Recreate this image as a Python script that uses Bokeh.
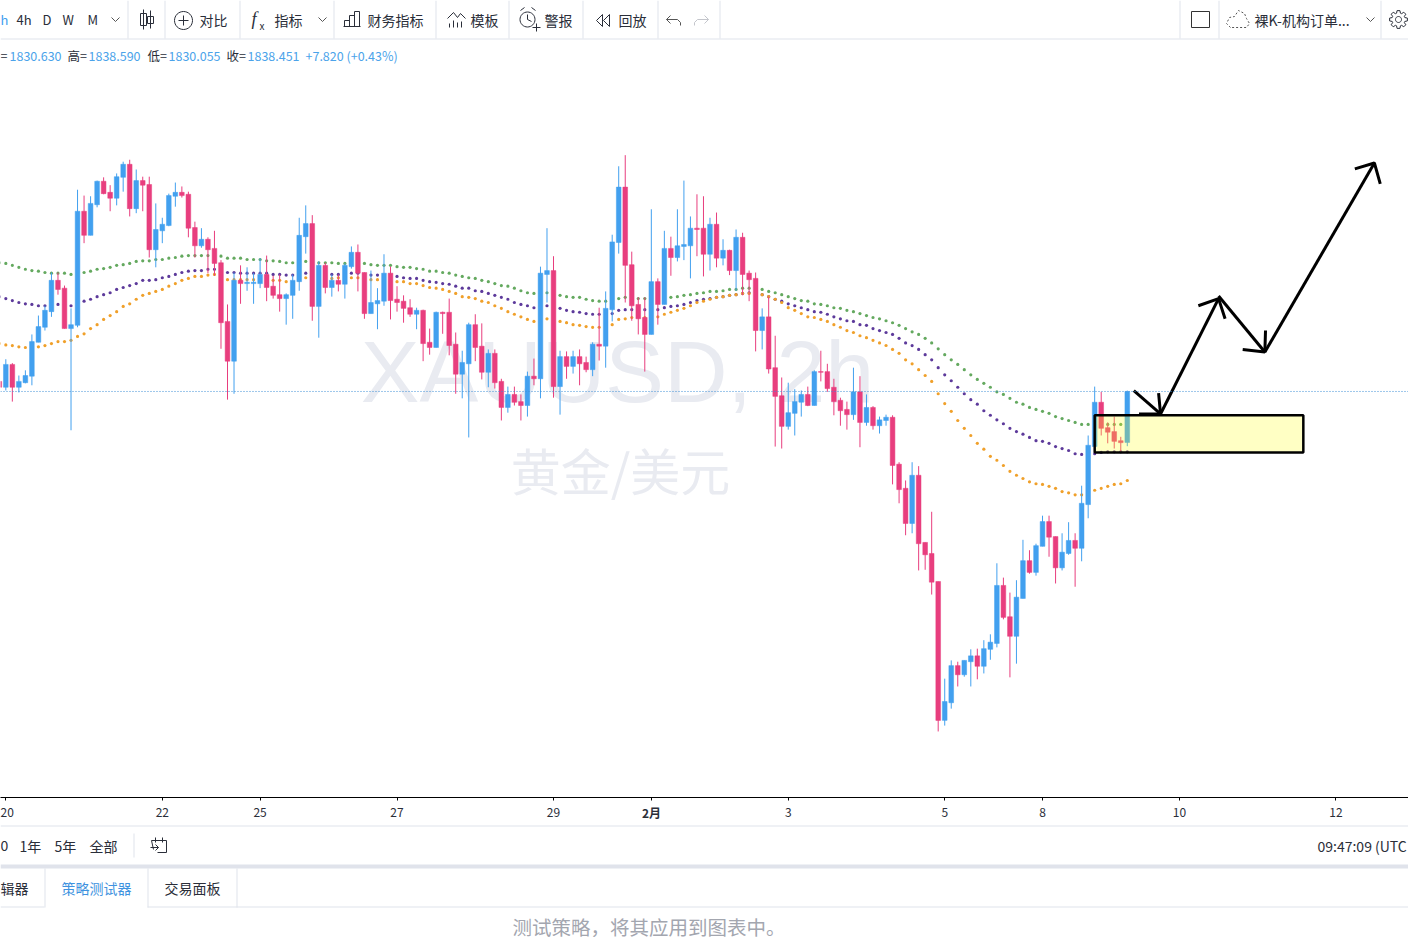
import math
from bokeh.plotting import figure
from bokeh.layouts import column
from bokeh.core.properties import value
from bokeh.models import Range1d, FixedTicker, Label, Span
from bokeh.embed import file_html
from bokeh.resources import INLINE

# XAUUSD 2h candles
opens = [1840.0,1839.1,1842.6,1839.1,1839.8,1840.8,1846.0,1848.3,1850.7,1855.5,
1854.3,1848.1,1848.6,1866.1,1862.4,1867.1,1870.7,1869.0,1868.1,1871.3,
1873.3,1866.5,1870.8,1870.2,1860.2,1863.1,1863.9,1868.4,1869.0,1868.7,
1863.6,1860.8,1861.8,1860.4,1858.2,1849.2,1843.1,1855.5,1855.0,1855.0,
1855.0,1856.4,1854.6,1853.3,1852.7,1853.2,1855.3,1862.2,1864.2,1851.5,
1857.8,1854.4,1855.5,1854.9,1857.6,1859.8,1856.7,1850.4,1851.9,1852.3,
1856.6,1852.6,1852.3,1851.3,1850.3,1850.9,1846.0,1845.2,1850.6,1850.6,
1845.7,1841.1,1842.7,1848.7,1845.4,1841.4,1844.3,1840.0,1836.0,1838.0,
1836.9,1836.3,1840.8,1840.4,1856.4,1857.0,1839.2,1843.8,1842.3,1843.8,
1842.9,1841.8,1845.7,1845.4,1851.0,1861.3,1869.8,1857.9,1851.8,1849.8,
1847.2,1855.3,1851.8,1860.4,1859.0,1860.7,1860.8,1863.5,1863.5,1859.5,
1864.1,1858.9,1860.1,1857.0,1862.1,1856.6,1855.8,1847.8,1849.9,1842.1,
1837.8,1833.1,1835.1,1836.8,1838.0,1836.3,1841.5,1841.5,1839.1,1837.1,
1835.7,1834.9,1838.4,1833.7,1836.0,1833.2,1834.0,1834.5,1827.3,1823.6,
1818.2,1825.6,1815.3,1813.6,1809.3,1788.0,1790.7,1796.4,1795.0,1797.0,
1797.9,1796.3,1798.9,1799.8,1808.7,1803.9,1800.9,1806.7,1812.5,1810.7,
1814.7,1818.5,1816.2,1811.4,1813.6,1815.6,1814.4,1821.1,1830.0,1836.8,
1832.9,1832.3,1830.9,1830.63]
highs = [1840.0,1843.4,1842.8,1840.9,1841.7,1847.2,1850.1,1851.6,1856.7,1856.7,
1854.7,1851.2,1869.4,1868.5,1868.4,1870.8,1871.3,1870.1,1871.9,1873.7,
1874.0,1872.5,1871.4,1871.4,1867.3,1865.1,1868.8,1870.5,1869.9,1869.1,
1864.5,1863.5,1862.1,1863.1,1858.6,1851.8,1856.7,1857.8,1857.5,1856.6,
1858.9,1859.3,1856.2,1856.4,1853.5,1856.4,1865.1,1867.0,1865.5,1858.4,
1858.2,1856.4,1856.4,1858.1,1860.7,1861.0,1856.7,1857.0,1854.3,1859.5,
1857.6,1854.6,1853.2,1852.6,1851.3,1851.0,1848.1,1850.7,1850.7,1852.7,
1847.5,1844.7,1849.0,1850.3,1848.9,1844.9,1844.9,1840.4,1839.2,1839.2,
1838.0,1841.5,1843.5,1857.6,1863.5,1859.2,1844.7,1844.6,1844.7,1844.9,
1843.8,1846.0,1851.3,1853.8,1862.5,1873.0,1874.7,1859.9,1852.9,1852.9,
1866.4,1855.8,1863.1,1862.2,1866.4,1870.8,1865.3,1868.7,1868.4,1865.1,
1865.9,1861.8,1860.2,1863.3,1862.8,1857.0,1856.7,1851.2,1853.0,1847.0,
1840.6,1839.8,1838.8,1838.6,1839.2,1841.7,1844.7,1842.7,1840.4,1837.5,
1836.9,1842.1,1840.8,1838.0,1836.2,1834.6,1834.9,1834.8,1827.6,1824.8,
1827.6,1827.0,1815.3,1820.0,1809.3,1794.4,1797.2,1797.0,1797.2,1798.9,
1799.0,1800.3,1801.2,1812.1,1809.9,1807.6,1809.5,1815.7,1814.1,1815.1,
1819.4,1819.4,1816.2,1816.7,1818.4,1816.7,1824.0,1831.7,1839.2,1838.4,
1833.7,1834.6,1831.5,1838.59]
lows = [1838.9,1838.6,1836.9,1838.3,1839.7,1839.4,1846.0,1847.8,1849.9,1853.3,
1848.1,1832.5,1848.3,1861.2,1862.4,1866.7,1868.7,1866.1,1867.0,1869.1,
1865.3,1865.8,1866.1,1859.0,1857.5,1861.2,1863.8,1866.8,1868.2,1862.1,
1859.0,1860.5,1856.6,1856.2,1845.0,1837.2,1838.1,1851.9,1853.9,1851.9,
1854.3,1852.3,1852.7,1850.7,1848.7,1849.6,1853.9,1859.6,1849.3,1846.7,
1853.5,1853.0,1853.8,1852.7,1857.3,1853.8,1849.6,1850.4,1848.0,1851.6,
1849.5,1850.7,1849.0,1849.9,1848.0,1843.1,1844.1,1845.2,1847.3,1844.0,
1838.1,1837.4,1831.4,1843.1,1840.3,1839.1,1838.9,1834.0,1835.2,1836.3,
1834.0,1834.6,1839.4,1837.4,1852.1,1837.5,1834.9,1840.4,1841.2,1839.4,
1841.4,1840.8,1843.2,1842.1,1849.2,1859.6,1852.1,1849.3,1847.2,1841.5,
1847.2,1848.7,1851.8,1856.2,1858.4,1858.6,1855.8,1859.2,1856.1,1857.0,
1857.5,1857.8,1856.3,1853.9,1853.2,1852.3,1844.6,1844.9,1841.2,1830.0,
1829.7,1832.6,1831.7,1834.6,1836.2,1836.3,1840.0,1838.4,1834.8,1833.2,
1832.6,1834.1,1829.9,1833.2,1832.6,1832.0,1833.2,1824.2,1821.3,1816.4,
1816.7,1811.0,1811.1,1807.3,1786.3,1787.2,1789.8,1793.2,1794.7,1793.2,
1794.3,1795.2,1797.3,1799.2,1803.5,1794.6,1796.7,1806.7,1810.5,1810.2,
1814.7,1813.1,1809.0,1811.0,1813.4,1808.5,1812.4,1819.0,1830.0,1831.7,
1830.5,1829.7,1829.2,1830.055]
closes = [1839.1,1842.6,1839.1,1840.0,1840.9,1846.1,1848.4,1850.9,1855.5,1854.1,
1848.1,1848.7,1866.1,1862.4,1867.3,1870.7,1868.8,1868.1,1871.4,1873.3,
1866.5,1870.8,1870.1,1860.2,1863.3,1864.1,1868.5,1869.0,1868.5,1863.5,
1860.8,1861.8,1860.2,1858.1,1849.0,1843.1,1855.5,1855.0,1855.2,1855.2,
1856.4,1854.4,1853.2,1852.7,1853.3,1855.5,1862.4,1864.2,1851.5,1857.8,
1854.4,1855.5,1854.9,1857.8,1859.8,1856.6,1850.4,1852.1,1852.4,1856.6,
1852.4,1852.1,1851.2,1850.3,1850.9,1845.8,1845.2,1850.6,1850.4,1845.5,
1841.1,1842.9,1848.7,1845.2,1841.4,1844.3,1839.8,1836.0,1838.0,1836.8,
1836.3,1840.8,1840.4,1856.6,1857.0,1839.2,1843.8,1842.3,1843.8,1842.7,
1841.8,1845.7,1845.4,1851.2,1861.4,1869.8,1857.8,1851.6,1849.6,1847.2,
1855.3,1851.8,1860.4,1859.0,1860.8,1861.0,1863.5,1863.3,1859.5,1864.1,
1858.9,1860.1,1857.0,1862.1,1856.4,1855.6,1847.8,1849.9,1841.9,1837.7,
1833.1,1835.2,1836.9,1838.0,1836.3,1841.5,1841.4,1838.9,1836.9,1835.5,
1834.9,1838.4,1833.7,1836.0,1833.2,1834.1,1834.5,1827.1,1823.4,1818.2,
1825.6,1815.1,1813.4,1809.2,1788.0,1790.9,1796.4,1795.0,1797.2,1797.9,
1796.3,1799.0,1800.0,1808.7,1803.8,1800.9,1806.9,1812.5,1810.7,1814.8,
1818.5,1816.1,1811.4,1813.8,1815.6,1814.4,1821.3,1830.2,1836.8,1832.8,
1832.2,1830.8,1830.6,1838.451]

ma_green = [1858.2,1858.1,1857.8,1857.5,1857.2,1857.0,1856.9,1856.7,1856.6,1856.6,
1856.6,1856.4,1856.6,1856.7,1856.9,1857.2,1857.3,1857.5,1857.8,1857.9,
1858.1,1858.4,1858.5,1858.5,1858.7,1858.7,1858.9,1859.0,1859.2,1859.3,
1859.3,1859.3,1859.3,1859.3,1859.2,1858.9,1858.9,1858.9,1858.7,1858.7,
1858.7,1858.5,1858.5,1858.4,1858.2,1858.2,1858.4,1858.4,1858.4,1858.2,
1858.2,1858.2,1858.1,1858.1,1858.2,1858.2,1858.1,1857.9,1857.8,1857.8,
1857.8,1857.6,1857.5,1857.5,1857.3,1857.2,1856.9,1856.9,1856.7,1856.6,
1856.3,1856.1,1855.9,1855.8,1855.5,1855.3,1855.0,1854.7,1854.6,1854.3,
1853.9,1853.6,1853.5,1853.5,1853.6,1853.3,1853.2,1853.0,1852.9,1852.9,
1852.6,1852.4,1852.3,1852.3,1852.4,1852.7,1852.9,1852.7,1852.7,1852.7,
1852.7,1852.9,1852.9,1852.9,1853.0,1853.2,1853.3,1853.5,1853.6,1853.8,
1853.8,1853.9,1854.1,1854.1,1854.3,1854.3,1854.1,1854.1,1853.8,1853.6,
1853.3,1853.0,1852.7,1852.4,1852.3,1851.9,1851.8,1851.6,1851.3,1851.2,
1850.9,1850.7,1850.4,1850.1,1849.8,1849.6,1849.3,1849.0,1848.6,1848.1,
1847.6,1847.2,1846.6,1845.9,1845.0,1844.1,1843.3,1842.6,1841.8,1841.0,
1840.3,1839.7,1839.1,1838.4,1838.0,1837.4,1836.8,1836.5,1836.0,1835.7,
1835.4,1835.1,1834.6,1834.3,1834.0,1833.7,1833.4,1833.4,1833.4,1833.4,
1833.4,1833.4,1833.4,1833.4]
ma_purple = [1853.0,1852.7,1852.4,1852.1,1851.9,1851.8,1851.6,1851.6,1851.6,1851.8,
1851.8,1851.6,1851.9,1852.3,1852.6,1853.0,1853.3,1853.6,1854.1,1854.4,
1854.7,1855.0,1855.5,1855.5,1855.6,1855.9,1856.1,1856.4,1856.7,1856.9,
1857.0,1857.0,1857.2,1857.2,1857.0,1856.7,1856.7,1856.6,1856.6,1856.6,
1856.6,1856.6,1856.4,1856.4,1856.3,1856.3,1856.4,1856.6,1856.3,1856.3,
1856.3,1856.4,1856.4,1856.4,1856.6,1856.6,1856.4,1856.3,1856.3,1856.1,
1855.9,1856.1,1855.9,1855.8,1855.8,1855.5,1855.3,1855.2,1855.0,1854.9,
1854.6,1854.3,1854.3,1853.9,1853.8,1853.5,1853.2,1852.9,1852.6,1852.1,
1851.8,1851.6,1851.3,1851.5,1851.6,1851.3,1851.2,1850.9,1850.7,1850.6,
1850.4,1850.3,1850.3,1850.4,1850.4,1850.9,1851.0,1851.0,1850.7,1851.0,
1851.0,1851.0,1851.3,1851.5,1851.6,1851.8,1852.1,1852.4,1852.6,1852.7,
1852.9,1853.0,1853.2,1853.3,1853.5,1853.6,1853.5,1853.3,1853.0,1852.6,
1852.3,1851.9,1851.6,1851.3,1851.0,1850.7,1850.6,1850.3,1849.9,1849.6,
1849.3,1849.2,1848.7,1848.6,1848.1,1847.8,1847.5,1847.2,1846.6,1845.9,
1845.5,1844.9,1844.1,1843.3,1842.1,1841.0,1840.1,1839.1,1838.1,1837.2,
1836.5,1835.5,1834.8,1834.1,1833.5,1832.8,1832.3,1831.9,1831.4,1830.9,
1830.8,1830.5,1830.0,1829.7,1829.4,1828.9,1828.8,1828.8,1828.9,1829.1,
1829.2,1829.2,1829.2,1829.2]
ma_orange = [1845.8,1845.6,1845.5,1845.3,1845.2,1845.3,1845.3,1845.5,1845.8,1846.1,
1846.1,1846.3,1846.9,1847.3,1848.1,1848.7,1849.5,1850.1,1850.7,1851.5,
1851.9,1852.6,1853.2,1853.5,1853.8,1854.1,1854.6,1855.0,1855.5,1855.8,
1856.1,1856.1,1856.3,1856.4,1855.9,1855.6,1855.6,1855.6,1855.6,1855.6,
1855.6,1855.5,1855.5,1855.5,1855.3,1855.2,1855.5,1855.9,1855.8,1855.8,
1855.6,1855.8,1855.9,1855.9,1855.9,1855.9,1855.8,1855.6,1855.6,1855.5,
1855.3,1855.3,1855.3,1855.0,1855.0,1854.7,1854.4,1854.3,1854.1,1853.8,
1853.5,1853.0,1852.9,1852.7,1852.3,1852.1,1851.6,1851.2,1850.7,1850.3,
1849.9,1849.5,1849.2,1849.3,1849.6,1849.3,1849.2,1849.0,1848.7,1848.6,
1848.4,1848.3,1848.3,1848.4,1848.7,1849.5,1849.6,1849.8,1849.9,1849.8,
1849.6,1849.9,1850.3,1850.6,1850.9,1851.2,1851.6,1852.1,1852.3,1852.6,
1852.9,1853.0,1853.2,1853.3,1853.5,1853.5,1853.3,1853.3,1853.0,1852.6,
1852.1,1851.3,1850.9,1850.4,1849.9,1849.8,1849.5,1849.2,1848.7,1848.3,
1847.8,1847.5,1847.0,1846.7,1846.3,1845.9,1845.5,1844.9,1844.3,1843.3,
1842.7,1841.8,1840.9,1840.0,1838.1,1836.6,1835.4,1834.0,1832.8,1831.7,
1830.5,1829.6,1828.5,1827.9,1827.1,1826.2,1825.6,1825.1,1824.6,1824.3,
1824.2,1823.9,1823.6,1823.1,1822.9,1822.6,1822.6,1822.8,1823.3,1823.6,
1823.9,1824.2,1824.3,1824.8]

tick_index = [1, 25, 40, 61, 85, 100, 121, 145, 160, 181, 205]
tick_text = ["20", "22", "25", "27", "29", "", "3", "5", "8", "10", "12"]

# hand-drawn trade idea: (bar index, price)
box_x = [168.0, 200.0]
box_y = [1829.1, 1834.8]
arrow_x = [[174.0, 178.1], [177.8, 178.1, 174.8], [178.1, 187.0], [183.9, 187.0, 188.0],
           [187.0, 194.1], [194.2, 194.1, 190.7], [194.1, 210.9], [207.9, 210.9, 211.8]]
arrow_y = [[1838.6, 1835.0], [1838.2, 1835.0, 1835.0], [1835.0, 1852.7], [1851.6, 1852.7, 1849.6],
           [1853.1, 1844.5], [1847.8, 1844.5, 1844.9], [1844.5, 1873.5], [1872.6, 1873.5, 1870.3]]

BLUE = "#42a0ef"
RED = "#e83e7e"
INK = "#2a2e39"
RULE = "#e0e3eb"
LBLUE = "#4ba3ea"
CJK = "Noto Sans CJK SC"

p = figure(width=1408, height=785, output_backend="svg", toolbar_location=None,
           x_range=Range1d(0.184, 216.13), y_range=Range1d(1776.17, 1892.29),
           min_border_left=0, min_border_right=0, min_border_top=0, min_border_bottom=28,
           outline_line_color=None, background_fill_color="white")
p.grid.visible = False
p.yaxis.visible = False
ax = p.xaxis[0]
ax.ticker = FixedTicker(ticks=tick_index)
ax.major_label_overrides = {t: s for t, s in zip(tick_index, tick_text)}
ax.axis_line_color = "#000000"
ax.major_tick_line_color = "#000000"
ax.minor_tick_line_color = None
ax.major_tick_in = 0
ax.major_tick_out = 3
ax.major_label_standoff = 7
ax.major_label_text_font = CJK
ax.major_label_text_font_size = "12px"
ax.major_label_text_color = INK


def L(x, y, s, size=12.5, color=INK, align="left", font=CJK, level="annotation"):
    # text inside the chart panel, y given from the top of the page
    p.add_layout(Label(x=x, y=y - 40, x_units="canvas", y_units="canvas", text=s,
                       text_font=font, text_font_size=f"{size}px", text_color=color,
                       text_align=align, text_baseline="middle", level=level))


L(617, 371, "XAUUSD, 2h", size=88, color="#e9ebf1", align="center", font="Liberation Sans", level="underlay")
L(620, 468, "黄金/美元", size=50, color="#e9ebf1", align="center", level="underlay")

# moving averages, then candles over them
idx = list(range(len(opens)))
p.scatter(idx, ma_green, size=3.2, color="#64a95f", line_width=0)
p.scatter(idx, ma_purple, size=3.2, color="#5d3a9b", line_width=0)
p.scatter(idx, ma_orange, size=3.2, color="#f0a02a", line_width=0)

colors = [BLUE if c >= o else RED for o, c in zip(opens, closes)]
p.segment(idx, highs, idx, lows, color=colors, line_width=1)
p.vbar(idx, width=0.72, top=[max(o, c) for o, c in zip(opens, closes)],
       bottom=[min(o, c) for o, c in zip(opens, closes)], fill_color=colors,
       line_color=colors, line_width=0.5)
p.add_layout(Span(location=closes[-1], dimension="width", line_color="#3d8fd6",
                  line_dash="1 2", line_width=1))

p.quad(left=[box_x[0]], right=[box_x[1]], bottom=[box_y[0]], top=[box_y[1]],
       fill_color="#ffff14", fill_alpha=0.25, line_color="#000000", line_width=2.5)
p.multi_line(arrow_x, arrow_y, line_color="#000000", line_width=3)

# values line
L(0, 55, "=")
L(9, 55, "1830.630", color=LBLUE)
L(67, 55, "高=")
L(88, 55, "1838.590", color=LBLUE)
L(147, 55, "低=")
L(168, 55, "1830.055", color=LBLUE)
L(226, 55, "收=")
L(247, 55, "1838.451", color=LBLUE)
L(305, 55, "+7.820 (+0.43%)", color=LBLUE)


def panel(h, top_y, bottom_y, **kw):
    return figure(width=1408, height=h, output_backend="svg", toolbar_location=None,
                  x_range=Range1d(0, 1408), y_range=Range1d(bottom_y, top_y),
                  x_axis_type=None, y_axis_type=None, min_border=0,
                  outline_line_color=None, **kw)


def T(f, x, y, s, size=14, color=INK, align="left", style="normal", font=CJK):
    f.text([x], [y - 1], text=[s], text_font=value(font), text_font_size=value(f"{size}px"),
           text_color=color, text_align=align, text_baseline="middle", text_font_style=style)


def I(f, pts, color=INK, width=1.0, dash="solid", closed=False):
    xs = [a for a, _ in pts]
    ys = [b for _, b in pts]
    if closed:
        xs.append(xs[0])
        ys.append(ys[0])
    f.line(xs, ys, line_color=color, line_width=width, line_dash=dash)


def R(f, x0, y0, x1, y1, color=RULE):
    f.quad(left=[x0], right=[x1], top=[y0], bottom=[y1], fill_color=color, line_color=None)


def C(f, cx, cy, r, color=INK, width=1.0, dash="solid"):
    I(f, [(cx + r * math.cos(i * math.pi / 16), cy + r * math.sin(i * math.pi / 16)) for i in range(32)],
      color=color, width=width, dash=dash, closed=True)


def GEAR(f, cx, cy):
    pts = []
    for k in range(8):
        a = k * math.pi / 4
        for da, r in [(-0.3, 6.6), (-0.16, 9), (0.16, 9), (0.3, 6.6)]:
            pts.append((cx + r * math.cos(a + da), cy + r * math.sin(a + da)))
    I(f, pts, closed=True)
    C(f, cx, cy, 3)


# top toolbar
t = panel(40, 0, 40, background_fill_color="white")
R(t, 0, 38, 1408, 39)
for sx in [127, 164, 239, 333, 435, 508, 582, 657, 719, 1179, 1218, 1380]:
    R(t, sx, 0, sx + 1, 38)
T(t, 0, 20, "h", 13, BLUE)
T(t, 16, 20, "4h", 13)
T(t, 42, 20, "D", 13)
T(t, 62, 20, "W", 13)
T(t, 87, 20, "M", 13)
I(t, [(111, 17), (115, 21), (119, 17)], color="#555555")
I(t, [(143, 9), (143, 29)])
I(t, [(140, 13), (146, 13), (146, 25), (140, 25)], closed=True)
I(t, [(150, 10), (150, 28)])
I(t, [(147, 16), (153, 16), (153, 23), (147, 23)], closed=True)
C(t, 183, 20, 9)
I(t, [(178, 20), (188, 20)])
I(t, [(183, 15), (183, 25)])
T(t, 199, 20, "对比")
T(t, 251, 19, "f", 18, style="italic", font="Liberation Serif")
T(t, 259, 26, "x", 10)
T(t, 274, 20, "指标")
I(t, [(318, 17), (322, 21), (326, 17)], color="#555555")
I(t, [(343, 26), (360, 26)])
for a, b, top in [(344, 349, 20), (349, 354, 15), (354, 359, 11)]:
    I(t, [(a, top), (b, top), (b, 26), (a, 26)], closed=True)
T(t, 367, 20, "财务指标")
I(t, [(447, 18), (453, 12), (457, 17), (460, 13), (465, 18)])
for sx, top in [(449, 23), (453, 20), (457, 22), (461, 21)]:
    I(t, [(sx, top), (sx, 27)])
T(t, 470, 20, "模板")
C(t, 527, 19, 7.5)
I(t, [(527, 14), (527, 19), (531, 21)])
I(t, [(520, 10), (524, 7)])
I(t, [(531, 7), (535, 10)])
I(t, [(532, 27), (540, 27)])
I(t, [(536, 23), (536, 31)])
T(t, 544, 20, "警报")
I(t, [(602, 14), (596, 20), (602, 26)], closed=True)
I(t, [(609, 14), (603, 20), (609, 26)], closed=True)
T(t, 618, 20, "回放")
I(t, [(670, 15), (666, 19), (670, 23)], color="#555555")
I(t, [(666, 19), (677, 19), (680, 22), (680, 25)], color="#555555")
I(t, [(704, 15), (708, 19), (704, 23)], color="#c4c6cc")
I(t, [(708, 19), (697, 19), (694, 22), (694, 25)], color="#c4c6cc")
I(t, [(1191, 11), (1209, 11), (1209, 27), (1191, 27)], color="#333333", closed=True)
I(t, [(1230, 27), (1226, 23), (1229, 17), (1234, 16), (1238, 10), (1244, 13), (1246, 18), (1249, 23), (1246, 27)],
  color="#555555", dash="2 2", closed=True)
T(t, 1254, 20, "裸K-机构订单...")
I(t, [(1366, 17), (1370, 21), (1374, 17)], color="#555555")
GEAR(t, 1398, 19)

# lower bars: this panel lies over the tick-label band and lets it show through
b = panel(134, 803, 937, background_fill_color=None, border_fill_color=None, margin=(-22, 0, 0, 0))
T(b, 651, 813, "2月", 12, INK, align="center", style="bold")
R(b, 0, 825, 1408, 826)
T(b, 0, 846, "0")
T(b, 19, 846, "1年")
T(b, 54, 846, "5年")
T(b, 89, 846, "全部")
R(b, 133, 833, 134, 857)
I(b, [(153, 849), (151, 840), (166, 840), (166, 852), (157, 852)])
I(b, [(155, 837), (155, 842)])
I(b, [(162, 837), (162, 842)])
I(b, [(150, 847), (158, 847)])
I(b, [(155, 844), (158, 847), (155, 850)])
T(b, 1317, 846, "09:47:09 (UTC")
R(b, 0, 864, 1408, 868)
R(b, 0, 906, 44, 907)
R(b, 147, 906, 1408, 907)
for sx in [44, 147, 236]:
    R(b, sx, 868, sx + 1, 907)
T(b, 0, 888, "辑器")
T(b, 61, 888, "策略测试器", 14, "#3f93e0")
T(b, 164, 888, "交易面板")
T(b, 512, 927, "测试策略，将其应用到图表中。", 19.5, "#a3a6af")

page = column(t, p, b, spacing=0)
open("out.html", "w").write(file_html(page, INLINE))
